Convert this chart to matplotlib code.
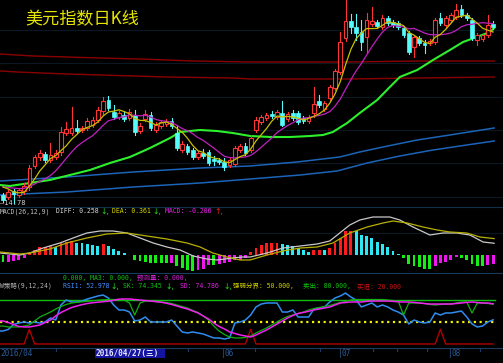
import numpy as np
import matplotlib
matplotlib.use("Agg")
import matplotlib.pyplot as plt
from matplotlib.patches import Rectangle

W, H = 503, 363

# ---------------- daily candles (price units) ----------------
opens = [14.86,14.84,14.90,14.86,14.90,14.94,15.15,15.24,15.27,15.21,
         15.24,15.29,15.48,15.48,15.53,15.51,15.53,15.56,15.61,15.70,
         15.81,15.69,15.64,15.66,15.63,15.66,15.50,15.62,15.66,15.51,
         15.55,15.57,15.60,15.48,15.31,15.35,15.31,15.24,15.28,15.29,
         15.22,15.21,15.19,15.16,15.17,15.31,15.35,15.31,15.51,15.59,
         15.63,15.67,15.64,15.68,15.62,15.68,15.68,15.63,15.60,15.68,
         15.80,15.72,15.83,15.93,16.09,16.43,16.60,16.54,16.49,16.44,
         16.57,16.59,16.54,16.63,16.59,16.58,16.53,16.48,16.34,16.43,
         16.38,16.38,16.39,16.63,16.56,16.61,16.64,16.72,16.66,16.61,
         16.41,16.42,16.46,16.57]
closes = [14.81,14.89,14.87,14.91,14.95,15.13,15.24,15.28,15.21,15.26,
          15.28,15.49,15.52,15.53,15.50,15.53,15.60,15.61,15.71,15.80,
          15.73,15.64,15.68,15.62,15.69,15.49,15.55,15.67,15.53,15.56,
          15.59,15.60,15.55,15.33,15.37,15.29,15.24,15.28,15.25,15.18,
          15.20,15.19,15.14,15.21,15.33,15.35,15.28,15.43,15.61,15.64,
          15.66,15.65,15.69,15.56,15.67,15.63,15.59,15.60,15.64,15.77,
          15.76,15.78,15.94,16.10,16.39,16.60,16.54,16.48,16.39,16.61,
          16.60,16.55,16.63,16.58,16.56,16.54,16.46,16.29,16.44,16.38,
          16.36,16.40,16.61,16.58,16.63,16.66,16.71,16.66,16.63,16.43,
          16.46,16.46,16.56,16.54]
highs = [14.88,14.91,14.92,14.93,14.98,15.16,15.26,15.31,15.29,15.38,
         15.31,15.54,15.59,15.74,15.61,15.55,15.63,15.64,15.74,15.84,
         15.85,15.76,15.70,15.70,15.72,15.71,15.58,15.71,15.69,15.59,
         15.61,15.62,15.63,15.56,15.40,15.37,15.33,15.30,15.32,15.31,
         15.25,15.23,15.23,15.23,15.35,15.37,15.38,15.46,15.64,15.66,
         15.68,15.70,15.71,15.80,15.69,15.71,15.70,15.65,15.66,15.94,
         15.86,15.80,15.96,16.12,16.49,16.81,16.67,16.67,16.61,16.68,
         16.74,16.61,16.66,16.65,16.61,16.60,16.55,16.50,16.46,16.45,
         16.41,16.42,16.63,16.68,16.65,16.68,16.77,16.76,16.68,16.63,
         16.48,16.48,16.66,16.60]
lows = [14.79,14.82,14.78,14.84,14.87,14.91,15.13,15.21,15.19,15.19,
        15.22,15.26,15.46,15.46,15.48,15.49,15.51,15.54,15.59,15.67,
        15.71,15.62,15.62,15.60,15.61,15.46,15.48,15.60,15.51,15.49,
        15.53,15.55,15.53,15.31,15.29,15.27,15.22,15.22,15.23,15.16,
        15.16,15.17,15.11,15.14,15.15,15.29,15.26,15.29,15.49,15.57,
        15.61,15.63,15.62,15.55,15.60,15.61,15.57,15.58,15.58,15.64,
        15.74,15.70,15.81,15.91,16.07,16.40,16.48,16.41,16.31,16.28,
        16.55,16.53,16.52,16.56,16.54,16.52,16.44,16.27,16.24,16.36,
        16.28,16.36,16.37,16.56,16.54,16.59,16.62,16.64,16.61,16.41,
        16.36,16.40,16.44,16.52]
prev_closes = [14.95,14.92,14.96,14.93,14.94,14.99,15.02,14.95,14.93]

# long moving averages (candle index, price)
ma30_x = [-0.6,1.3,5.1,8.9,12.7,16.5,20.3,24.1,27.9,31.7,33.6,35.5,37.4,40.6,43.6,46.9,
          50.7,54.5,58.3,60.7,62.6,65.3,67.7,71.0,73.4,75.3,78.6,81.6,84.8,87.3,89.9,92.4,93.2]
ma30_v = [14.96,14.95,14.98,15.01,15.06,15.11,15.18,15.24,15.33,15.43,15.49,15.50,15.51,15.50,15.48,15.45,
          15.44,15.44,15.45,15.46,15.49,15.58,15.68,15.81,15.94,16.04,16.11,16.21,16.31,16.39,16.44,16.49,16.53]
ma60_x = [-0.6,12.1,24.7,37.4,46.9,55.8,63.9,67.7,72.1,78.6,84.8,93.2]
ma60_v = [15.00,15.04,15.09,15.13,15.15,15.19,15.24,15.29,15.34,15.41,15.46,15.53]
ma120_x = [-0.6,12.1,24.7,37.4,46.9,56.4,63.4,69.1,75.3,81.6,88.0,93.2]
ma120_v = [14.86,14.89,14.94,14.98,15.02,15.06,15.10,15.18,15.25,15.31,15.36,15.40]
maA_x = [-0.6,5.7,18.4,26.0,36.1,46.9,65.8,78.6,93.2]
maA_v = [16.27,16.25,16.23,16.22,16.20,16.19,16.19,16.20,16.20]
maB_x = [-0.6,2.7,12.1,31.1,43.6,46.9,65.8,78.6,93.2]
maB_v = [16.10,16.09,16.07,16.04,16.03,16.02,16.02,16.03,16.04]

# ---------------- MACD ----------------
macd_hist = [-0.154,-0.147,-0.140,-0.110,-0.073,0.051,0.110,0.169,0.183,0.198,
             0.183,0.257,0.293,0.315,0.271,0.257,0.235,0.231,0.198,0.242,
             0.198,0.125,0.095,0.037,0.007,
             -0.110,-0.132,-0.147,-0.169,-0.172,-0.183,-0.185,-0.169,-0.242,-0.279,
             -0.330,-0.345,-0.330,-0.315,-0.209,-0.220,-0.200,-0.180,-0.150,-0.120,
             -0.100,-0.060,
             0.073,0.161,0.220,0.257,0.271,0.272,0.235,0.220,0.198,0.147,
             0.110,0.073,0.105,0.115,0.108,0.161,0.257,0.367,0.528,0.532,
             0.528,0.440,0.418,0.367,0.293,0.242,0.183,0.095,0.022,-0.073,
             -0.198,-0.242,-0.257,-0.308,-0.310,-0.235,-0.183,-0.147,-0.110,-0.050,
             -0.060,-0.110,-0.198,-0.235,-0.242,-0.220,-0.206]
diff_x = [-0.6,3.2,5.1,7.6,10.8,13.3,15.9,18.4,20.9,23.5,26.0,28.5,31.1,33.6,36.1,38.7,40.6,43.6,45.5,46.9,
          50.1,53.1,56.4,59.6,62.0,63.9,65.8,67.7,70.2,73.4,75.3,77.8,81.0,83.5,86.1,88.6,91.1,93.2]
diff_v = [0.044,0.0,0.044,0.154,0.264,0.374,0.484,0.528,0.528,0.484,0.374,0.264,0.176,0.110,-0.022,-0.088,
          -0.110,-0.066,-0.044,-0.044,0.044,0.154,0.198,0.242,0.308,0.484,0.660,0.770,0.836,0.836,0.770,
          0.616,0.440,0.484,0.484,0.440,0.286,0.258]
dea_x = [-0.6,3.2,5.1,8.9,12.1,15.9,19.7,23.5,27.3,31.1,34.9,37.4,39.8,42.5,45.0,46.9,
         50.1,53.1,56.4,59.6,62.6,65.8,69.1,72.1,74.0,76.7,79.7,82.4,84.8,88.0,90.5,93.2]
dea_v = [0.066,0.022,0.044,0.132,0.264,0.374,0.462,0.484,0.418,0.352,0.264,0.176,0.044,-0.044,-0.110,-0.110,
         0.0,0.088,0.154,0.176,0.264,0.484,0.616,0.704,0.748,0.704,0.616,0.550,0.506,0.484,0.396,0.361]

# ---------------- RSI strategy panel ----------------
rsi1 = [37.7,39.8,46.6,48.6,50,48.6,50,48.6,50,55.5,
        52.7,73.2,80,77.3,77.3,78.6,81.4,83.4,85.5,86.8,
        82.7,73.2,66.4,66.4,63.6,51.4,52.7,56.8,50,50,
        50,50,52.7,44.5,36.4,35,36.4,35,33.6,30.9,
        28.2,28.2,26.8,28.2,48.6,50,52.7,59.5,70.5,74.5,
        75.9,75.9,75.9,63.6,63.6,66.4,56.8,56.8,56.8,67.7,
        69.1,70.5,77.3,82.7,85.5,89.5,84.1,80,70.5,73.2,
        75.9,70.5,73.2,70.5,66.4,63.6,59.5,47.3,52.7,50,
        48.6,50,62.3,59.5,62.3,62.3,63.6,65,56.8,47.3,
        43.2,44.5,50,52.978]
sk = [44.5,43.2,43.2,43.2,44.5,45.9,51.4,56.8,60.2,63.6,
      67.7,71.1,73.9,75.9,76.8,77.5,78.2,78.9,79.7,80.3,
      80.7,80.7,80.7,80,75.9,59.5,75.9,78.6,78.6,77.9,
      77.3,76.6,75.2,73.2,71.1,69.1,65.7,63,58.2,52.7,
      44.5,37.7,33,29.5,28.2,28.2,28.9,30.9,35,38.4,
      41.8,45.9,50,54.1,57.5,59.5,61.6,63.6,66.4,68.4,
      69.8,71.1,72.5,74.5,76.6,77.9,80,80.7,80.7,80.7,
      80.7,80.7,80.7,80,79.3,78.6,59.5,75.9,75.9,75.9,
      75.2,73.9,73.2,73.9,74.5,74.5,75.9,77.3,77.3,62.3,
      75.9,75.9,75.2,74.345]
sd = [51.4,49.3,46.6,43.9,43.2,43.2,44.5,45.9,49.3,52.7,
      58.2,63,66.4,69.8,71.8,73.7,75.2,76.3,77,77.7,
      78.4,79.6,81.1,81.4,81.4,80.7,80,79.3,78.6,77.8,
      77,75.6,73.9,71.8,69.6,67.7,65,62.3,58.2,54.1,
      48.6,43.9,40.5,36.4,34.3,32.3,30.9,29.5,32.3,35.7,
      39.1,43.2,47.3,51.4,55.5,58.9,61.6,63,64.6,66.4,
      67.7,69.1,70.5,73.2,75.9,76.6,77.3,77.3,77.3,78.2,
      78.6,78.6,78.6,78.6,78.2,77.5,77.3,77.3,76.8,75.9,
      75.2,74.5,74.5,74.5,74.5,74.5,75.2,75.9,76.8,77.3,
      76.6,75.9,75.9,74.786]
buy_days = [5, 47, 83]
level_mid, level_sell, level_buy, buy_peak = 50, 80, 20, 40

# x-axis labels (candle index where each month starts)
month_labels = ["2016/04", "06", "07", "08"]
month_pos = [-0.57, 41.8, 64.0, 84.9]
cursor_label = "2016/04/27(三)"
cursor_pos = 17.45
week_ticks = [10.1, 22.8, 35.1, 47.8, 60.2, 70.2, 74.8, 80.5, 90.5]

# ---------------- drawing ----------------
n = len(closes)
idx = np.arange(n)
XL = (-0.57, 94.88)
FS = 4.7

fig = plt.figure(figsize=(W / 100, H / 100), dpi=100, facecolor="black")

def pax(y0, y1):
    ax = fig.add_axes([0, 1 - y1 / H, 1, (y1 - y0) / H])
    ax.set_facecolor("black")
    ax.set_axis_off()
    ax.set_xlim(*XL)
    return ax

def ftext(x, y, s, color, size=FS, family=None, **kw):
    fam = family or ["DejaVu Sans Mono", "Noto Sans CJK SC", "DejaVu Sans"]
    fig.text(x / W, 1 - y / H, s, color=color, fontsize=size, family=fam,
             va="center", ha="left", **kw)

def arrow(x, y, s, color):
    ftext(x, y, s, color, size=5.6, family=["DejaVu Sans", "Noto Sans CJK SC"])

# ---- main panel
ax = pax(0, 207)
ax.set_ylim(14.74, 16.81)
for g in [16.51, 16.18, 15.84, 15.51, 15.18, 14.84]:
    ax.axhline(g, color="#0b1824", lw=0.8, zorder=0)

allc = np.array(prev_closes + closes)
def sma(k):
    p = len(prev_closes)
    return np.array([allc[i + p - k + 1: i + p + 1].mean() for i in range(n)])

ax.plot(maA_x, maA_v, color="#8a0000", lw=1.0, zorder=1)
ax.plot(maB_x, maB_v, color="#8a0000", lw=1.0, zorder=1)
ax.plot(ma60_x, ma60_v, color="#1c64b8", lw=1.1, zorder=1)
ax.plot(ma120_x, ma120_v, color="#1c64b8", lw=1.1, zorder=1)
ax.plot(ma30_x, ma30_v, color="#2cf02c", lw=1.5, zorder=2)

up_c, dn_c = "#ff3434", "#54fcfc"
bw = 0.7
for i in range(n):
    o, c, h, l = opens[i], closes[i], highs[i], lows[i]
    top, bot = max(o, c), min(o, c)
    if c >= o:
        ax.plot([i, i], [top, h], color=up_c, lw=0.8, zorder=3)
        ax.plot([i, i], [l, bot], color=up_c, lw=0.8, zorder=3)
        ax.add_patch(Rectangle((i - bw / 2, bot), bw, max(top - bot, 0.008),
                               facecolor="black", edgecolor=up_c, lw=0.8, zorder=4))
    else:
        ax.plot([i, i], [l, h], color=dn_c, lw=0.8, zorder=3)
        ax.add_patch(Rectangle((i - bw / 2, bot), bw, max(top - bot, 0.008),
                               facecolor=dn_c, edgecolor=dn_c, lw=0.5, zorder=4))

ax.plot(idx, sma(10), color="#c020c0", lw=0.9, zorder=5)
ax.plot(idx, sma(5), color="#c8c000", lw=0.9, zorder=5)

ftext(25, 19, "美元指数日K线", "#e6e600", size=12.3, family=["Noto Sans CJK SC", "DejaVu Sans"])
ftext(0, 203, "—14.78", "#d0d0d0", size=5.0)

# ---- MACD panel
ax2 = pax(207, 274)
ax2.set_ylim(-0.418, 1.056)
ax2.axhline(1.056, color="#10304c", lw=1.5)
ax2.axhline(0.484, color="#0b1824", lw=0.8)
ax2.axhline(-0.418, color="#143a5c", lw=1.5)
cols = []
prev = 0.0
for v in macd_hist:
    if v >= 0:
        cols.append("#ff1c1c" if v >= prev else "#2ce8f4")
    else:
        cols.append("#14f014" if v <= prev else "#f014f0")
    prev = v
ax2.bar(idx, macd_hist, width=0.55, color=cols, zorder=2)
ax2.plot(diff_x, diff_v, color="#c8c8c8", lw=0.9, zorder=3)
ax2.plot(dea_x, dea_v, color="#b8b000", lw=0.9, zorder=3)

y = 211.5
ftext(0, y, "MACD(26,12,9)", "#c0c0c0")
ftext(56, y, "DIFF: 0.258", "#d8d8d8")
arrow(100, y, "↓,", "#20e020")
ftext(112, y, "DEA: 0.361", "#d8d800")
arrow(152, y, "↓,", "#20e020")
ftext(165, y, "MACD: -0.206", "#f020f0")
arrow(214, y, "↑,", "#ff2020")

# ---- RSI panel
ax3 = pax(274, 348)
ax3.set_ylim(14.5, 115.5)
xr = np.r_[-0.57, idx]
ax3.plot([-0.57, 93.3], [level_sell] * 2, color="#10c010", lw=1.0, zorder=1)
ax3.plot([-0.57, 93.3], [level_mid] * 2, color="#f0f000", lw=1.6, ls=(0, (1, 1.6)), zorder=1)
buy = np.full(n, float(level_buy))
buy[buy_days] = buy_peak
ax3.plot(xr, np.r_[level_buy, buy], color="#b00000", lw=1.0, zorder=2)
ax3.plot(xr, np.r_[rsi1[0], rsi1], color="#2f8cf0", lw=1.1, zorder=3)
ax3.plot(xr, np.r_[sk[0], sk], color="#10b010", lw=0.9, zorder=4)
ax3.plot(xr, np.r_[sd[0], sd], color="#f020f0", lw=1.1, zorder=5)

y1, y2 = 278, 286
ftext(63, y1, "0.000, MA3: 0.000,", "#10c010")
ftext(137, y1, "预测量: 0.000,", "#d020d0")
ftext(0, y2, "W策略(9,12,24)", "#b0b0b0")
ftext(63, y2, "RSI1: 52.978", "#3c8cff")
arrow(110, y2, "↓,", "#20e020")
ftext(123, y2, "SK: 74.345", "#10c010")
arrow(165, y2, "↓,", "#20e020")
ftext(180, y2, "SD: 74.786", "#e020e0")
arrow(223, y2, "↓,", "#20e020")
ftext(233, y2, "强弱分界: 50.000,", "#d0d000")
ftext(303, y2, "卖出: 80.000,", "#10c010")
ftext(357, y2, "买进: 20.000", "#d01010")

# ---- time axis strip
ax4 = pax(348, 358)
ax4.set_ylim(0, 1)
ax4.axhline(1.0, color="#1c3c64", lw=1.5)
for t in week_ticks:
    ax4.plot([t, t], [1.0, 0.7], color="#1c3c64", lw=0.8)
for lab, p in zip(month_labels, month_pos):
    if p > 0:
        ax4.plot([p, p], [1.0, 0.0], color="#1c3c64", lw=0.8)
    ax4.text(p + 0.15, 0.45, lab, color="#2c5c9c", fontsize=5.6,
             family=["DejaVu Sans Mono"], va="center", ha="left")
ax4.add_patch(Rectangle((cursor_pos, 0.0), 13.3, 1.0, facecolor="#1414a0", edgecolor="none"))
ax4.text(cursor_pos + 0.2, 0.45, cursor_label, color="#e8e8ff", fontsize=5.6,
         family=["DejaVu Sans Mono", "Noto Sans CJK SC"], va="center", ha="left", weight="bold")

ax5 = pax(358, 363)
ax5.set_facecolor("#2e2e2e")

fig.savefig("out.png", dpi=100, facecolor="black")
